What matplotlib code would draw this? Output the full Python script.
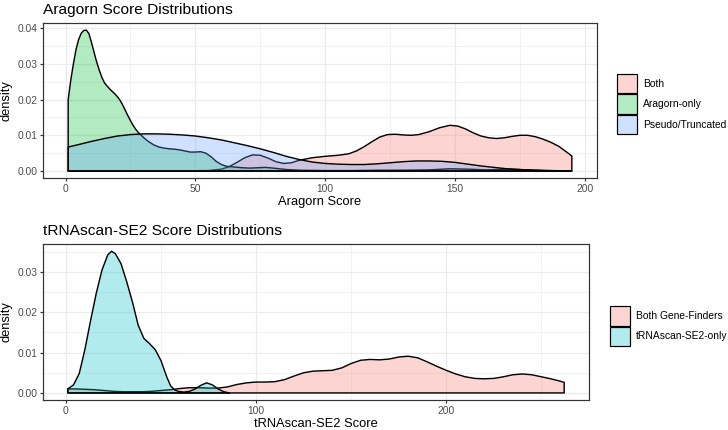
import matplotlib
matplotlib.use("Agg")
import matplotlib.pyplot as plt
from matplotlib.patches import Patch
from matplotlib.ticker import MultipleLocator, FormatStrFormatter

plt.rcParams['font.family'] = ['Liberation Sans', 'DejaVu Sans']

# ---------------- data ----------------
top_title = "Aragorn Score Distributions"
top_xlabel = "Aragorn Score"
top_labels = ["Both", "Aragorn-only", "Pseudo/Truncated"]
top_colors = ["#F8766D", "#00BA38", "#619CFF"]

both_x = [1, 40, 55, 60, 63, 66, 69, 72, 75, 78, 81, 84, 87, 90, 95, 100, 105, 109,
          112, 115, 118, 121, 124, 127, 130, 133, 136, 140, 144, 148, 151, 154, 157,
          160, 163, 166, 169, 172, 175, 178, 181, 184, 187, 190, 193, 195]
both_d = [0.0000, 0.0000, 0.0001, 0.0005, 0.0012, 0.0024, 0.0037, 0.0045, 0.0044,
          0.0036, 0.0026, 0.0021, 0.0023, 0.0030, 0.0037, 0.0041, 0.0044, 0.0048,
          0.0056, 0.0068, 0.0082, 0.0095, 0.0102, 0.0103, 0.0101, 0.0100, 0.0102,
          0.0110, 0.0121, 0.0128, 0.0126, 0.0118, 0.0107, 0.0098, 0.0093, 0.0091,
          0.0093, 0.0097, 0.0100, 0.0100, 0.0096, 0.0089, 0.0080, 0.0069, 0.0053,
          0.0042]

arag_x = [1, 2, 3, 4, 5, 6, 7, 8, 9, 10, 11, 12, 13, 14, 15, 16, 17, 18, 19, 20, 21,
          22, 23, 24, 25, 26, 27, 28, 30, 32, 34, 36, 38, 40, 42, 44, 46, 48, 50, 52,
          54, 56, 58, 60, 62, 65, 68, 71, 74, 77, 80, 85, 90, 100, 110, 120, 130, 140,
          148, 155, 162, 170, 178, 185, 195]
arag_d = [0.0200, 0.0255, 0.0300, 0.0340, 0.0368, 0.0386, 0.0394, 0.0395, 0.0385,
          0.0360, 0.0332, 0.0305, 0.0282, 0.0262, 0.0247, 0.0238, 0.0230, 0.0223,
          0.0216, 0.0208, 0.0198, 0.0185, 0.0170, 0.0155, 0.0141, 0.0128, 0.0117,
          0.0108, 0.0094, 0.0082, 0.0073, 0.0067, 0.0064, 0.0062, 0.0061, 0.0059,
          0.0056, 0.0053, 0.0053, 0.0054, 0.0050, 0.0040, 0.0027, 0.0018, 0.0013,
          0.0011, 0.0009, 0.0008, 0.0009, 0.0010, 0.0008, 0.0004, 0.0002, 0.0001,
          0.0001, 0.0002, 0.0002, 0.0003, 0.0006, 0.0005, 0.0003, 0.0005, 0.0003,
          0.0001, 0.0000]

pseudo_x = [1, 5, 10, 15, 20, 25, 30, 35, 40, 45, 50, 55, 60, 65, 70, 75, 80, 85, 90,
            95, 100, 105, 110, 115, 120, 125, 130, 135, 140, 145, 150, 155, 160, 165,
            170, 175, 180, 187, 195]
pseudo_d = [0.0067, 0.0074, 0.0083, 0.0091, 0.0098, 0.0102, 0.0104, 0.0104, 0.0103,
            0.0101, 0.0098, 0.0093, 0.0087, 0.0079, 0.0071, 0.0062, 0.0052, 0.0041,
            0.0032, 0.0025, 0.0021, 0.0019, 0.0018, 0.0018, 0.0020, 0.0023, 0.0026,
            0.0028, 0.0028, 0.0027, 0.0024, 0.0019, 0.0014, 0.0010, 0.0006, 0.0004,
            0.0002, 0.0001, 0.0000]

bot_title = "tRNAscan-SE2 Score Distributions"
bot_xlabel = "tRNAscan-SE2 Score"
bot_labels = ["Both Gene-Finders", "tRNAscan-SE2-only"]
bot_colors = ["#F8766D", "#00BFC4"]

bgf_x = [1, 5, 10, 15, 20, 25, 30, 35, 40, 45, 50, 55, 60, 65, 70, 75, 80, 85, 90, 95,
         100, 105, 110, 115, 120, 125, 130, 135, 140, 145, 150, 155, 160, 165, 170,
         175, 180, 185, 190, 195, 200, 205, 210, 215, 220, 225, 230, 235, 240, 245,
         250, 255, 260, 262]
bgf_d = [0.0010, 0.0010, 0.0009, 0.0008, 0.0006, 0.0004, 0.0003, 0.0003, 0.0003,
         0.0004, 0.0006, 0.0008, 0.0011, 0.0013, 0.0013, 0.0012, 0.0012, 0.0015,
         0.0021, 0.0025, 0.0027, 0.0027, 0.0028, 0.0033, 0.0042, 0.0050, 0.0054,
         0.0055, 0.0056, 0.0062, 0.0073, 0.0081, 0.0083, 0.0082, 0.0084, 0.0089,
         0.0091, 0.0087, 0.0077, 0.0066, 0.0056, 0.0047, 0.0040, 0.0036, 0.0035,
         0.0036, 0.0040, 0.0045, 0.0047, 0.0045, 0.0040, 0.0035, 0.0029, 0.0026]

trna_x = [1, 4, 7, 10, 13, 16, 19, 22, 24, 26, 29, 32, 35, 38, 41, 44, 47, 50, 53, 55,
          57, 59, 62, 65, 68, 71, 74, 77, 80, 83, 86]
trna_d = [0.0010, 0.0020, 0.0048, 0.0108, 0.0180, 0.0248, 0.0305, 0.0342, 0.0351,
          0.0345, 0.0320, 0.0275, 0.0225, 0.0168, 0.0135, 0.0122, 0.0107, 0.0080,
          0.0040, 0.0018, 0.0008, 0.0004, 0.0002, 0.0004, 0.0010, 0.0019, 0.0025,
          0.0020, 0.0010, 0.0003, 0.0000]

# ---------------- figure ----------------
DPI = 72
fig = plt.figure(figsize=(728 / DPI, 430 / DPI), dpi=DPI)
W, H = 728, 430
S = 1.17  # size scale of the reference rendering

def axes_px(l, t, r, b):
    return fig.add_axes([l / W, 1 - b / H, (r - l) / W, (b - t) / H])

ax1 = axes_px(43, 23, 597, 178)
ax2 = axes_px(43, 244, 589, 400)

ALPHA = 0.3
LW = 0.5 * 2.845 * S * 0.85

def density(ax, xs, ds, color):
    px = list(xs) + [xs[-1], xs[0]]
    py = list(ds) + [0, 0]
    ax.fill(px, py, facecolor=matplotlib.colors.to_rgba(color, ALPHA),
            edgecolor='black', linewidth=LW, joinstyle='round')

def style(ax, xlim, ylim, xmaj, ymaj, title, xlabel):
    ax.set_xlim(*xlim)
    ax.set_ylim(*ylim)
    ax.xaxis.set_major_locator(MultipleLocator(xmaj))
    ax.xaxis.set_minor_locator(MultipleLocator(xmaj / 2))
    ax.yaxis.set_major_locator(MultipleLocator(ymaj))
    ax.yaxis.set_minor_locator(MultipleLocator(ymaj / 2))
    ax.yaxis.set_major_formatter(FormatStrFormatter('%.2f'))
    ax.grid(True, which='major', color='#EBEBEB', linewidth=1.2)
    ax.grid(True, which='minor', color='#EBEBEB', linewidth=0.6)
    ax.set_axisbelow(True)
    for s in ax.spines.values():
        s.set_color('#333333')
        s.set_linewidth(1.2)
    ax.tick_params(which='major', length=2.75 * S, width=1.2, color='#333333',
                   labelsize=8.8 * S, labelcolor='#4D4D4D', pad=2.2 * S)
    ax.tick_params(which='minor', length=0)
    ax.set_title(title, loc='left', fontsize=13.2 * S, pad=9.0)
    ax.set_xlabel(xlabel, fontsize=11 * S, labelpad=2.5)
    ax.set_ylabel('density', fontsize=11 * S, labelpad=4.5)

density(ax1, both_x, both_d, top_colors[0])
density(ax1, arag_x, arag_d, top_colors[1])
density(ax1, pseudo_x, pseudo_d, top_colors[2])
style(ax1, (-8.7, 204.7), (-0.00198, 0.0415), 50, 0.01, top_title, top_xlabel)

density(ax2, bgf_x, bgf_d, bot_colors[0])
density(ax2, trna_x, trna_d, bot_colors[1])
style(ax2, (-12.05, 275.05), (-0.00175, 0.0369), 100, 0.01, bot_title, bot_xlabel)

def legend(ax, labels, colors, x_px, yc_px):
    fs = 8.8 * S
    key_h = 19.5
    hh = (key_h / fs - 0.245) / 0.65
    handles = [Patch(facecolor=matplotlib.colors.to_rgba(c, ALPHA), edgecolor='black',
                     linewidth=1.2) for c in colors]
    ax.legend(handles, labels, loc='center left', bbox_to_anchor=(x_px / W, 1 - yc_px / H),
              bbox_transform=fig.transFigure, frameon=False, fontsize=fs,
              handlelength=19.5 / fs, handleheight=hh, labelspacing=1.0 / fs,
              handletextpad=6.5 / fs, borderpad=0, borderaxespad=0)

legend(ax1, top_labels, top_colors, 617, 104)
legend(ax2, bot_labels, bot_colors, 610, 326)

fig.savefig('out.png', dpi=DPI)
